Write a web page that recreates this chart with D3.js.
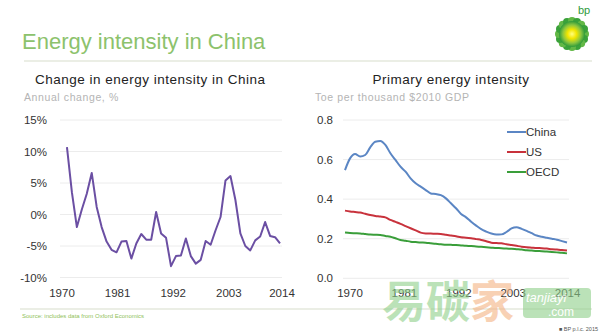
<!DOCTYPE html>
<html>
<head>
<meta charset="utf-8">
<script src="https://cdn.jsdelivr.net/npm/d3@7"></script>
<style>
  body { margin: 0; background: #fff; }
  svg { display: block; font-family: "Liberation Sans", Arial, sans-serif; }
</style>
</head>
<body>
<svg id="chart" width="600" height="333"></svg>
<script>
// left chart: annual change in energy intensity, China, 1971-2014
var changeYears = d3.range(1971, 2015);
var changeValues = [10.7, 3.5, -2.0, 0.8, 3.3, 6.6, 1.2, -2.0, -4.3, -5.6,
  -6.0, -4.3, -4.2, -7.0, -4.6, -3.1, -4.0, -4.0, 0.4, -3.0,
  -3.7, -8.2, -6.6, -6.5, -3.8, -6.6, -7.8, -7.2, -4.2, -4.8,
  -2.5, -0.4, 5.4, 6.1, 2.3, -3.0, -5.0, -5.7, -4.1, -3.5,
  -1.2, -3.4, -3.6, -4.6];
var leftTicks = [15, 10, 5, 0, -5, -10];
var yearTicks = [1970, 1981, 1992, 2003, 2014];

// right chart: primary energy intensity, toe per thousand $2010 GDP
var intensityYears = d3.range(1970, 2015);
var china = [0.547, 0.606, 0.628, 0.615, 0.623, 0.662, 0.69, 0.694, 0.674, 0.632,
  0.598, 0.564, 0.539, 0.505, 0.48, 0.463, 0.446, 0.429, 0.426, 0.42,
  0.404, 0.379, 0.354, 0.325, 0.308, 0.286, 0.266, 0.248, 0.236, 0.226,
  0.221, 0.222, 0.234, 0.252, 0.258, 0.25, 0.24, 0.228, 0.216, 0.21,
  0.205, 0.2, 0.195, 0.188, 0.181];
var us = [0.342, 0.338, 0.335, 0.332, 0.326, 0.32, 0.315, 0.312, 0.308, 0.295,
  0.285, 0.275, 0.264, 0.253, 0.242, 0.231, 0.227, 0.226, 0.225, 0.224,
  0.22, 0.216, 0.212, 0.207, 0.205, 0.202, 0.198, 0.194, 0.187, 0.18,
  0.178, 0.177, 0.172, 0.168, 0.164, 0.16, 0.157, 0.155, 0.153, 0.152,
  0.15, 0.147, 0.145, 0.143, 0.14];
var oecd = [0.231, 0.229, 0.228, 0.227, 0.224, 0.221, 0.22, 0.219, 0.214, 0.21,
  0.202, 0.194, 0.19, 0.185, 0.183, 0.181, 0.18, 0.177, 0.174, 0.172,
  0.17, 0.169, 0.168, 0.166, 0.164, 0.163, 0.161, 0.159, 0.157, 0.155,
  0.153, 0.152, 0.15, 0.149, 0.147, 0.145, 0.142, 0.14, 0.138, 0.137,
  0.135, 0.133, 0.131, 0.129, 0.126];
var rightTicks = [0.8, 0.6, 0.4, 0.2, 0.0];
var seriesNames = ["China", "US", "OECD"];
var seriesColors = ["#5b86c4", "#c8323c", "#3a9e3a"];

var svg = d3.select("#chart");

// header
svg.append("text")
  .attr("x", 22).attr("y", 49)
  .attr("font-size", 22)
  .attr("fill", "#8cc26c")
  .text("Energy intensity in China");

svg.append("line")
  .attr("x1", 24).attr("x2", 592).attr("y1", 61).attr("y2", 61)
  .attr("stroke", "#e4e8dc").attr("stroke-width", 1.5);

// bp logo
var logo = svg.append("g").attr("transform", "translate(572,34)");
var defs = svg.append("defs");
var grad = defs.append("radialGradient").attr("id", "sun");
grad.append("stop").attr("offset", "0%").attr("stop-color", "#ffff80");
grad.append("stop").attr("offset", "35%").attr("stop-color", "#f2e600");
grad.append("stop").attr("offset", "70%").attr("stop-color", "#8cc63f");
grad.append("stop").attr("offset", "100%").attr("stop-color", "#2e9a3a");
d3.range(16).forEach(function(i) {
  var a = i * Math.PI / 8;
  logo.append("circle")
    .attr("cx", Math.cos(a) * 13).attr("cy", Math.sin(a) * 13)
    .attr("r", 4)
    .attr("fill", i % 2 ? "#3aa13a" : "#62b846");
});
logo.append("circle").attr("r", 13).attr("fill", "url(#sun)");
svg.append("text")
  .attr("x", 578).attr("y", 14)
  .attr("font-size", 11).attr("fill", "#2e9a3a")
  .text("bp");

// ---------- left chart ----------
var xL = d3.scaleLinear().domain([1970, 2014]).range([62, 280]);
var yL = d3.scaleLinear().domain([-10, 15]).range([277.5, 120]);

svg.append("text")
  .attr("x", 35).attr("y", 84)
  .attr("font-size", 13.5).attr("letter-spacing", 0.5).attr("fill", "#222")
  .text("Change in energy intensity in China");
svg.append("text")
  .attr("x", 24).attr("y", 101)
  .attr("font-size", 10.5).attr("letter-spacing", 0.6).attr("fill", "#b4b4b4")
  .text("Annual change, %");

var gl = svg.append("g");
gl.selectAll("line.grid").data(leftTicks).enter().append("line")
  .attr("class", "grid")
  .attr("x1", 60).attr("x2", 282)
  .attr("y1", function(d) { return yL(d); })
  .attr("y2", function(d) { return yL(d); })
  .attr("stroke", "#ececec");

gl.selectAll("text.yl").data(leftTicks).enter().append("text")
  .attr("class", "yl")
  .attr("x", 47)
  .attr("y", function(d) { return yL(d) + 4; })
  .attr("text-anchor", "end")
  .attr("font-size", 11.5).attr("fill", "#333")
  .text(function(d) { return d + "%"; });

gl.selectAll("text.xl").data(yearTicks).enter().append("text")
  .attr("class", "xl")
  .attr("x", function(d) { return d === 2014 ? xL(d) + 2 : xL(d) + (d - 1970) * 0.1; })
  .attr("y", 297)
  .attr("text-anchor", "middle")
  .attr("font-size", 11.5).attr("fill", "#333")
  .text(function(d) { return d; });

gl.append("path")
  .datum(changeValues)
  .attr("fill", "none")
  .attr("stroke", "#6b4fa3")
  .attr("stroke-width", 2)
  .attr("stroke-linejoin", "round")
  .attr("d", d3.line()
    .x(function(d, i) { return xL(changeYears[i]); })
    .y(function(d) { return yL(d); }));

// ---------- right chart ----------
var xR = d3.scaleLinear().domain([1970, 2014]).range([345, 567]);
var yR = d3.scaleLinear().domain([0, 0.8]).range([278.3, 120]);

svg.append("text")
  .attr("x", 451).attr("y", 84)
  .attr("text-anchor", "middle")
  .attr("font-size", 13.5).attr("letter-spacing", 0.5).attr("fill", "#222")
  .text("Primary energy intensity");
svg.append("text")
  .attr("x", 315).attr("y", 101)
  .attr("font-size", 10.5).attr("letter-spacing", 0.6).attr("fill", "#b4b4b4")
  .text("Toe per thousand $2010 GDP");

var gr = svg.append("g");
gr.selectAll("line.grid").data(rightTicks).enter().append("line")
  .attr("class", "grid")
  .attr("x1", 343).attr("x2", 569)
  .attr("y1", function(d) { return yR(d); })
  .attr("y2", function(d) { return yR(d); })
  .attr("stroke", "#ececec");

gr.selectAll("text.yl").data(rightTicks).enter().append("text")
  .attr("class", "yl")
  .attr("x", 333)
  .attr("y", function(d) { return yR(d) + 4; })
  .attr("text-anchor", "end")
  .attr("font-size", 11.5).attr("fill", "#333")
  .text(function(d) { return d.toFixed(1); });

gr.selectAll("text.xl").data(yearTicks).enter().append("text")
  .attr("class", "xl")
  .attr("x", function(d) { return xR(d) + 5 - (d - 1970) * 0.1; })
  .attr("y", 297)
  .attr("text-anchor", "middle")
  .attr("font-size", 11.5).attr("fill", "#333")
  .text(function(d) { return d; });

var lineR = d3.line()
  .x(function(d, i) { return xR(intensityYears[i]); })
  .y(function(d) { return yR(d); })
  .curve(d3.curveMonotoneX);

[oecd, us, china].forEach(function(s, k) {
  gr.append("path")
    .datum(s)
    .attr("fill", "none")
    .attr("stroke", seriesColors[2 - k])
    .attr("stroke-width", 2)
    .attr("d", lineR);
});

var legend = gr.selectAll("g.leg").data(seriesNames).enter().append("g")
  .attr("class", "leg")
  .attr("transform", function(d, i) { return "translate(507," + (132 + i * 20) + ")"; });
legend.append("line")
  .attr("x1", 0).attr("x2", 19)
  .attr("stroke", function(d, i) { return seriesColors[i]; })
  .attr("stroke-width", 2);
legend.append("text")
  .attr("x", 19).attr("y", 4)
  .attr("font-size", 11.5).attr("fill", "#333")
  .text(function(d) { return d; });

// footer
svg.append("line")
  .attr("x1", 20).attr("x2", 592).attr("y1", 309).attr("y2", 309)
  .attr("stroke", "#e4e8dc").attr("stroke-width", 1.5);
svg.append("text")
  .attr("x", 22).attr("y", 318)
  .attr("font-size", 6).attr("fill", "#8fbf5a")
  .text("Source: includes data from Oxford Economics");
svg.append("text")
  .attr("x", 598).attr("y", 331)
  .attr("text-anchor", "end")
  .attr("font-size", 5.5).attr("fill", "#555")
  .text("\u25A0 BP p.l.c. 2015");

// watermark
var wm = svg.append("g").attr("opacity", 0.6);
wm.append("text")
  .attr("x", 382).attr("y", 318)
  .attr("font-family", "Noto Sans CJK SC")
  .attr("font-size", 44).attr("font-weight", "bold")
  .attr("fill", "#8fd08a")
  .text("易碳");
wm.append("text")
  .attr("x", 470).attr("y", 318)
  .attr("font-family", "Noto Sans CJK SC")
  .attr("font-size", 44).attr("font-weight", "bold")
  .attr("fill", "#f4b383")
  .text("家");
wm.append("rect")
  .attr("x", 523).attr("y", 288).attr("width", 68).attr("height", 30)
  .attr("rx", 4)
  .attr("fill", "#8fd08a");
wm.append("text")
  .attr("x", 526).attr("y", 302)
  .attr("font-size", 13).attr("font-style", "italic")
  .attr("fill", "#fff")
  .text("tanjiayi");
wm.append("text")
  .attr("x", 548).attr("y", 316)
  .attr("font-size", 12)
  .attr("fill", "#fff")
  .text(".com");
</script>
</body>
</html>
